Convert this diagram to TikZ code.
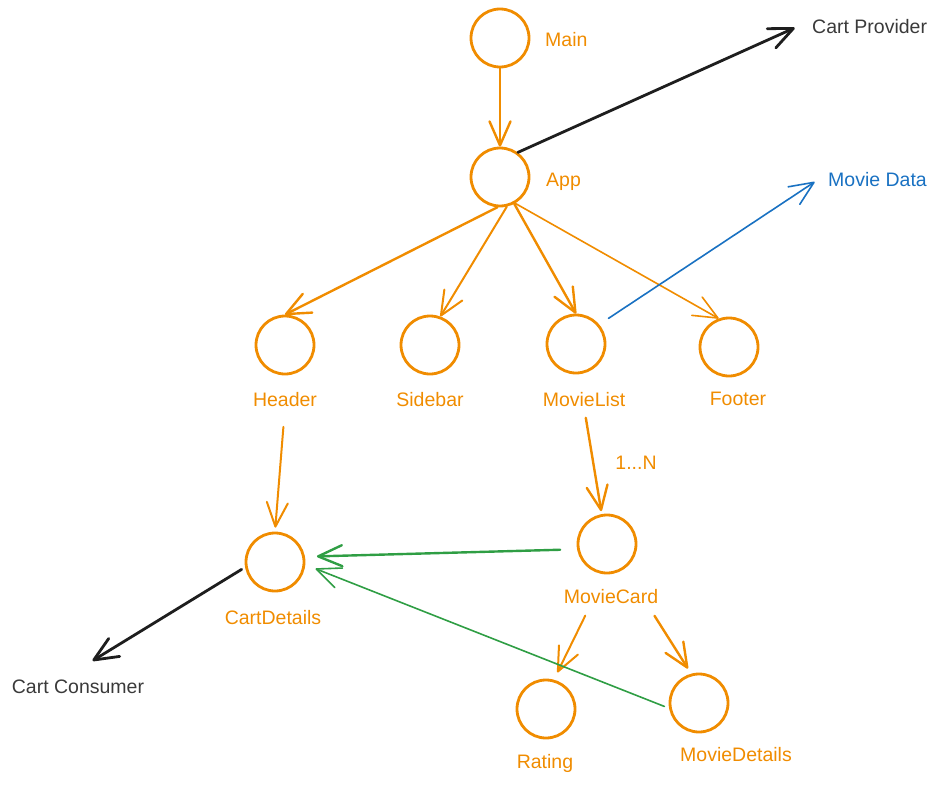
\documentclass[tikz,border=0pt]{standalone}
\usepackage{fontspec}
\setmainfont{Liberation Sans}
\usetikzlibrary{arrows.meta}
\definecolor{sketchorange}{HTML}{F08C00}
\definecolor{sketchblue}{HTML}{1971C2}
\definecolor{sketchgreen}{HTML}{2F9E44}
\definecolor{sketchink}{HTML}{1E1E1E}
\definecolor{sketchgray}{HTML}{3A3A3A}

\begin{document}
\begin{tikzpicture}[
  x=1pt, y=-1pt,
  font=\fontsize{19.5}{23}\selectfont,
  comp/.style={circle, draw=sketchorange, line width=2.8pt, minimum size=58pt, inner sep=0pt},
  lbl/.style={text=sketchorange, inner sep=0pt, text height=13.5pt, text depth=0pt},
  ext/.style={inner sep=0pt, text height=13.5pt, text depth=0pt},
  barb/.style={-{Straight Barb[round, length=24pt, width=21pt]}, line cap=round},
  flow/.style={barb, draw=sketchorange, line width=2.4pt},
  thin/.style={line width=1.6pt},
  feed/.style={barb, draw=sketchgreen, line width=2pt},
  ctx/.style={barb, draw=sketchink, line width=2.8pt},
]
  \useasboundingbox (0,0) rectangle (939,784);

  % component circles
  \node[comp] (main) at (500,38)  {};
  \node[comp] (app)  at (500,177) {};
  \node[comp] (hdr)  at (285,345) {};
  \node[comp] (sb)   at (430,345) {};
  \node[comp] (ml)   at (576,344) {};
  \node[comp] (ft)   at (729,347) {};
  \node[comp] (cd)   at (275,562) {};
  \node[comp] (mc)   at (607,544) {};
  \node[comp] (rt)   at (546,709) {};
  \node[comp] (mdt)  at (699,703) {};

  % component names
  \node[lbl, anchor=west] (mainl) at (545,40)  {Main};
  \node[lbl, anchor=west] (appl)  at (546,180) {App};
  \node[lbl] (hdrl) at (285,400) {Header};
  \node[lbl] (sbl)  at (430,400) {Sidebar};
  \node[lbl] (mll)  at (584,400) {MovieList};
  \node[lbl] (ftl)  at (738,399) {Footer};
  \node[lbl] (cdl)  at (273,618) {CartDetails};
  \node[lbl] (mcl)  at (611,597) {MovieCard};
  \node[lbl] (rtl)  at (545,762) {Rating};
  \node[lbl] (mdtl) at (736,755) {MovieDetails};
  \node[lbl] (card) at (636,463) {1...N};

  % context and data sources
  \node[ext, text=sketchgray, anchor=west] (cp) at (812,27)  {Cart Provider};
  \node[ext, text=sketchblue, anchor=west] (md) at (828,180) {Movie Data};
  \node[ext, text=sketchgray] (cc) at (78,687) {Cart Consumer};

  % render tree
  \draw[flow] (main) -- (app);
  \draw[flow] (app.265) -- (hdr.north);
  \draw[flow, line width=2pt] (app.283) -- (sb.70);
  \draw[flow] (app.298) -- (ml.north);
  \draw[flow, thin] (app.300) -- (ft.110);
  \draw[flow, line width=2pt, shorten <=20pt, shorten >=4pt] (hdrl.south) -- (cd.north);
  \draw[flow, shorten <=11pt, shorten >=3pt] (mll.south) -- (mc.100);
  \draw[flow, line width=2pt, shorten <=13pt, shorten >=8pt] ([xshift=-20pt]mcl.south) -- (rt.75);
  \draw[flow, shorten <=14pt, shorten >=6pt] ([xshift=36pt]mcl.south) -- (mdt.105);

  % context provider / consumer
  \draw[ctx, shorten >=19pt] (app.54) -- (cp.north west);
  \draw[ctx, shorten <=4pt, shorten >=37pt] (cd.190) -- ([xshift=-17pt]cc.north);

  % data fetch
  \draw[barb, draw=sketchblue, thin, shorten <=11pt, shorten >=16pt] (ml.40) -- (md.north west);

  % callbacks into the cart
  \draw[feed, line width=2.4pt, shorten <=17pt, shorten >=12pt] (mc.190) -- (cd.10);
  \draw[feed, thin, shorten <=5pt, shorten >=11pt] (mdt.190) -- (cd.-5);
\end{tikzpicture}
\end{document}
